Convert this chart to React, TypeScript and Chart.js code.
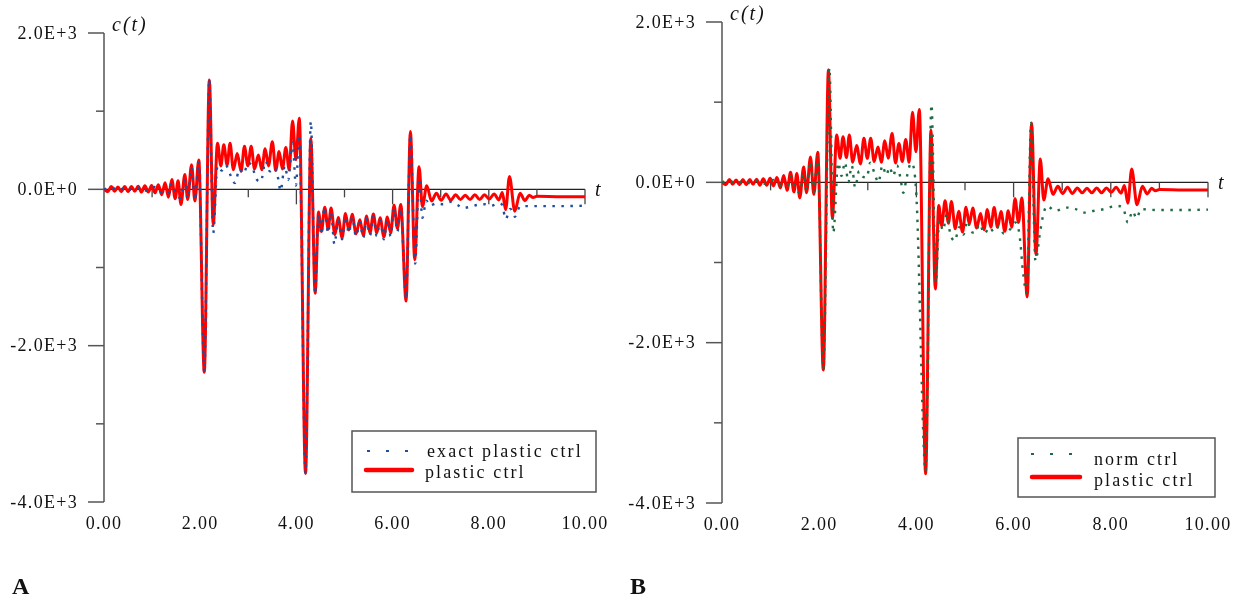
import React, { useEffect, useRef } from 'react';
import { Chart, registerables } from 'chart.js';
Chart.register(...registerables);

// ---- data ----
const tPlastic = [0.00, 0.08, 0.15, 0.22, 0.29, 0.36, 0.43, 0.50, 0.57, 0.64, 0.71, 0.78, 0.85, 0.92, 0.99, 1.06, 1.13, 1.20, 1.27, 1.34, 1.41, 1.48, 1.54, 1.60, 1.68, 1.74, 1.82, 1.89, 1.97, 2.085, 2.19, 2.27, 2.36, 2.43, 2.49, 2.56, 2.62, 2.69, 2.77, 2.85, 2.92, 2.99, 3.06, 3.13, 3.21, 3.28, 3.35, 3.42, 3.50, 3.57, 3.64, 3.71, 3.78, 3.85, 3.92, 3.99, 4.06, 4.19, 4.30, 4.39, 4.46, 4.52, 4.59, 4.66, 4.72, 4.80, 4.87, 4.95, 5.02, 5.09, 5.16, 5.24, 5.32, 5.39, 5.46, 5.53, 5.60, 5.67, 5.74, 5.82, 5.89, 5.96, 6.03, 6.10, 6.17, 6.28, 6.37, 6.46, 6.55, 6.62, 6.71, 6.81, 6.91, 7.01, 7.11, 7.21, 7.31, 7.41, 7.51, 7.61, 7.71, 7.81, 7.91, 8.01, 8.11, 8.21, 8.28, 8.35, 8.43, 8.54, 8.65, 8.75, 8.84, 8.92, 9.00, 9.50, 10.00];
const cPlastic = [0, -30, 35, -25, 30, -30, 35, -30, 35, -25, 40, -35, 45, -35, 50, -45, 60, -70, 85, -100, 125, -120, 110, -195, 190, -130, 315, -150, 375, -2340, 1400, -450, 590, 300, 570, 310, 590, 250, 460, 230, 550, 300, 550, 260, 440, 250, 520, 300, 610, 240, 485, 260, 535, 250, 875, 380, 910, -3635, 650, -1330, -290, -540, -230, -510, -240, -580, -360, -620, -310, -520, -320, -570, -390, -590, -340, -560, -315, -560, -365, -610, -355, -560, -205, -500, -195, -1430, 740, -900, 290, -220, 45, -150, -50, -140, -60, -140, -70, -130, -75, -130, -70, -130, -70, -125, -60, -135, -40, -260, 165, -280, -50, -145, -75, -105, -90, -95, -95];

const tExact = [0.00, 0.15, 0.30, 0.45, 0.60, 0.75, 0.90, 1.05, 1.20, 1.34, 1.41, 1.50, 1.58, 1.68, 1.74, 1.82, 1.89, 1.97, 2.085, 2.19, 2.27, 2.36, 2.45, 2.53, 2.63, 2.72, 2.82, 2.90, 3.00, 3.08, 3.17, 3.26, 3.36, 3.45, 3.54, 3.62, 3.67, 3.76, 3.83, 3.92, 3.99, 4.06, 4.19, 4.30, 4.39, 4.46, 4.52, 4.58, 4.66, 4.72, 4.79, 4.87, 4.95, 5.02, 5.09, 5.16, 5.24, 5.32, 5.39, 5.46, 5.53, 5.60, 5.67, 5.74, 5.82, 5.89, 5.96, 6.03, 6.10, 6.17, 6.28, 6.37, 6.47, 6.55, 6.62, 6.70, 6.78, 6.90, 7.05, 7.20, 7.35, 7.46, 7.60, 7.75, 7.90, 8.05, 8.20, 8.28, 8.35, 8.45, 8.54, 8.65, 8.80, 9.00, 9.50, 10.00];
const cExact = [0, 25, -15, 25, -15, 25, -20, 30, -40, -60, 80, -60, -110, 120, -120, 280, -140, 360, -2330, 1410, -560, 300, 240, 310, 180, 80, 260, 200, 340, 290, 130, 100, 360, 230, 280, 140, -20, 300, 120, 600, 50, 700, -3630, 870, -1340, -330, -580, -230, -560, -300, -700, -400, -640, -350, -560, -360, -600, -420, -620, -380, -590, -350, -600, -400, -640, -390, -600, -250, -540, -250, -1400, 700, -950, 145, -365, -145, -210, -180, -190, -160, -200, -240, -225, -200, -190, -210, -180, -200, -380, -250, -350, -220, -215, -215, -215, -210];

const tNorm = [0.00, 0.15, 0.30, 0.45, 0.60, 0.75, 0.90, 1.05, 1.20, 1.34, 1.41, 1.50, 1.60, 1.68, 1.74, 1.82, 1.89, 1.97, 2.085, 2.21, 2.29, 2.39, 2.46, 2.53, 2.60, 2.67, 2.74, 2.82, 2.90, 2.98, 3.05, 3.14, 3.22, 3.30, 3.38, 3.45, 3.52, 3.60, 3.67, 3.73, 3.80, 3.89, 4.00, 4.19, 4.31, 4.40, 4.47, 4.55, 4.62, 4.70, 4.79, 4.88, 4.97, 5.05, 5.13, 5.21, 5.30, 5.40, 5.50, 5.60, 5.70, 5.80, 5.93, 6.03, 6.12, 6.20, 6.27, 6.36, 6.45, 6.55, 6.62, 6.69, 6.85, 7.09, 7.26, 7.47, 7.64, 7.85, 8.12, 8.25, 8.35, 8.45, 8.53, 8.62, 8.94, 9.25, 9.60, 10.00];
const cNorm = [0, 20, -15, 20, -15, 25, -20, 30, -40, -50, 70, -60, -130, 110, -110, 260, -120, 330, -2330, 1430, -630, 245, 80, 250, 0, 210, -65, 140, 70, 60, 245, 110, 0, 210, 90, 190, 80, 210, 60, -130, 60, 240, -170, -3600, 970, -1250, -480, -600, -400, -650, -730, -560, -650, -480, -620, -630, -520, -640, -560, -620, -550, -640, -585, -500, -650, -1150, -1380, 740, -980, -600, -380, -295, -355, -315, -330, -378, -357, -336, -295, -315, -500, -360, -450, -335, -345, -345, -345, -340];

const xTickValues = [0, 2, 4, 6, 8, 10];
const xTickLabels = ['0.00', '2.00', '4.00', '6.00', '8.00', '10.00'];
const xAxisTicks = [1, 2, 3, 4, 5, 6, 7, 8, 9, 10];
const yMajorValues = [2000, 0, -2000, -4000];
const yMajorLabels = ['2.0E+3', '0.0E+0', '-2.0E+3', '-4.0E+3'];
const yMinorValues = [1000, -1000, -3000];

const RED = '#ff0000';
const BLUE = '#1d4f9c';
const GREEN = '#1e6b45';
const SERIF = "'Liberation Serif', 'Times New Roman', serif";

function pts(t: number[], c: number[]) {
  return t.map((x, i) => ({ x, y: c[i] }));
}

type LegendItem = { kind: 'dash' | 'solid'; color: string; text: string; x1: number; x2: number; ly: number; tx: number; ty: number };
type LegendCfg = { box: [number, number, number, number]; items: LegendItem[] };

function axesPlugin(legend: LegendCfg) {
  return {
    id: 'paperAxes',
    beforeDatasetsDraw(chart: any) {
      const { ctx, chartArea, scales } = chart;
      const xs = scales.x;
      const ys = scales.y;
      const x0 = xs.getPixelForValue(0);
      const x10 = xs.getPixelForValue(10);
      const y0 = ys.getPixelForValue(0);
      ctx.save();
      const seg = (a: number, b: number, c: number, d: number) => {
        ctx.beginPath();
        ctx.moveTo(a, b);
        ctx.lineTo(c, d);
        ctx.stroke();
      };
      // y axis
      ctx.strokeStyle = '#555';
      ctx.lineWidth = 1.5;
      seg(x0, ys.getPixelForValue(2000), x0, ys.getPixelForValue(-4000));
      yMajorValues.forEach((v) => {
        const p = ys.getPixelForValue(v);
        seg(x0 - 16, p, x0, p);
      });
      yMinorValues.forEach((v) => {
        const p = ys.getPixelForValue(v);
        seg(x0 - 8, p, x0, p);
      });
      // x axis at zero
      ctx.strokeStyle = '#222';
      ctx.lineWidth = 1.3;
      seg(x0, y0, x10, y0);
      ctx.strokeStyle = '#444';
      xAxisTicks.forEach((t) => {
        const p = xs.getPixelForValue(t);
        seg(p, y0, p, y0 + (t % 2 === 0 ? 15 : 8));
      });
      // labels
      ctx.fillStyle = '#111';
      ctx.font = `18px ${SERIF}`;
      (ctx as any).letterSpacing = '1.3px';
      ctx.textAlign = 'right';
      ctx.textBaseline = 'middle';
      yMajorValues.forEach((v, i) => {
        ctx.fillText(yMajorLabels[i], x0 - 26, ys.getPixelForValue(v) + 1);
      });
      ctx.textAlign = 'center';
      ctx.textBaseline = 'alphabetic';
      xTickValues.forEach((v, i) => {
        ctx.fillText(xTickLabels[i], xs.getPixelForValue(v), chartArea.bottom + 27);
      });
      ctx.font = `italic 20px ${SERIF}`;
      (ctx as any).letterSpacing = '2px';
      ctx.textAlign = 'left';
      ctx.fillText('c(t)', x0 + 8, chartArea.top - 2);
      ctx.fillText('t', x10 + 10, y0 + 7);
      ctx.restore();
    },
    afterDatasetsDraw(chart: any) {
      const { ctx } = chart;
      ctx.save();
      const [bx1, by1, bx2, by2] = legend.box;
      ctx.fillStyle = '#fff';
      ctx.fillRect(bx1, by1, bx2 - bx1, by2 - by1);
      ctx.strokeStyle = '#555';
      ctx.lineWidth = 1.5;
      ctx.strokeRect(bx1, by1, bx2 - bx1, by2 - by1);
      legend.items.forEach((it) => {
        ctx.beginPath();
        ctx.strokeStyle = it.color;
        if (it.kind === 'dash') {
          ctx.lineWidth = 2;
          ctx.setLineDash([3, 16]);
        } else {
          ctx.lineWidth = 4.5;
          ctx.lineCap = 'round';
          ctx.setLineDash([]);
        }
        ctx.moveTo(it.x1, it.ly);
        ctx.lineTo(it.x2, it.ly);
        ctx.stroke();
        ctx.setLineDash([]);
        ctx.lineCap = 'butt';
        ctx.fillStyle = '#111';
        ctx.font = `18px ${SERIF}`;
        (ctx as any).letterSpacing = '2.1px';
        ctx.textAlign = 'left';
        ctx.textBaseline = 'alphabetic';
        ctx.fillText(it.text, it.tx, it.ty);
      });
      ctx.restore();
    },
  };
}

function makeChart(
  canvas: HTMLCanvasElement,
  dotted: { label: string; t: number[]; c: number[]; color: string },
  padding: { left: number; right: number; top: number; bottom: number },
  legend: LegendCfg
) {
  return new Chart(canvas, {
    type: 'line',
    data: {
      datasets: [
        {
          label: dotted.label,
          data: pts(dotted.t, dotted.c),
          borderColor: dotted.color,
          borderWidth: 2.4,
          borderDash: [2.5, 6.5],
          pointRadius: 0,
          cubicInterpolationMode: 'monotone',
          fill: false,
        },
        {
          label: 'plastic ctrl',
          data: pts(tPlastic, cPlastic),
          borderColor: RED,
          borderWidth: 3,
          pointRadius: 0,
          cubicInterpolationMode: 'monotone',
          fill: false,
        },
      ],
    },
    options: {
      responsive: false,
      animation: false,
      events: [],
      layout: { padding },
      scales: {
        x: { type: 'linear', min: 0, max: 10, display: false },
        y: { type: 'linear', min: -4000, max: 2000, display: false },
      },
      plugins: { legend: { display: false }, tooltip: { enabled: false } },
    },
    plugins: [axesPlugin(legend)],
  } as any);
}

export default function App() {
  const refA = useRef<HTMLCanvasElement>(null);
  const refB = useRef<HTMLCanvasElement>(null);
  useEffect(() => {
    const a = makeChart(
      refA.current!,
      { label: 'exact plastic ctrl', t: tExact, c: cExact, color: BLUE },
      { left: 104, right: 33, top: 33, bottom: 99 },
      {
        box: [352, 431, 596, 492],
        items: [
          { kind: 'dash', color: BLUE, text: 'exact plastic ctrl', x1: 367, x2: 410, ly: 451, tx: 427, ty: 457 },
          { kind: 'solid', color: RED, text: 'plastic ctrl', x1: 366, x2: 412, ly: 470, tx: 425, ty: 478 },
        ],
      }
    );
    const b = makeChart(
      refB.current!,
      { label: 'norm ctrl', t: tNorm, c: cNorm, color: GREEN },
      { left: 104, right: 29, top: 22, bottom: 98 },
      {
        box: [400, 438, 597, 497],
        items: [
          { kind: 'dash', color: GREEN, text: 'norm ctrl', x1: 413, x2: 455, ly: 454, tx: 476, ty: 465 },
          { kind: 'solid', color: RED, text: 'plastic ctrl', x1: 414, x2: 462, ly: 477, tx: 476, ty: 486 },
        ],
      }
    );
    return () => {
      a.destroy();
      b.destroy();
    };
  }, []);
  const letter: React.CSSProperties = {
    position: 'absolute',
    top: 572,
    fontFamily: SERIF,
    fontWeight: 'bold',
    fontSize: 24,
    color: '#111',
    lineHeight: '28px',
  };
  return (
    <div style={{ position: 'fixed', left: 0, top: 0, width: 1237, height: 601, background: '#fff', overflow: 'hidden' }}>
      <canvas ref={refA} width={618} height={601} style={{ position: 'absolute', left: 0, top: 0, width: 618, height: 601 }} />
      <canvas ref={refB} width={619} height={601} style={{ position: 'absolute', left: 618, top: 0, width: 619, height: 601 }} />
      <div style={{ ...letter, left: 12 }}>A</div>
      <div style={{ ...letter, left: 630 }}>B</div>
    </div>
  );
}
